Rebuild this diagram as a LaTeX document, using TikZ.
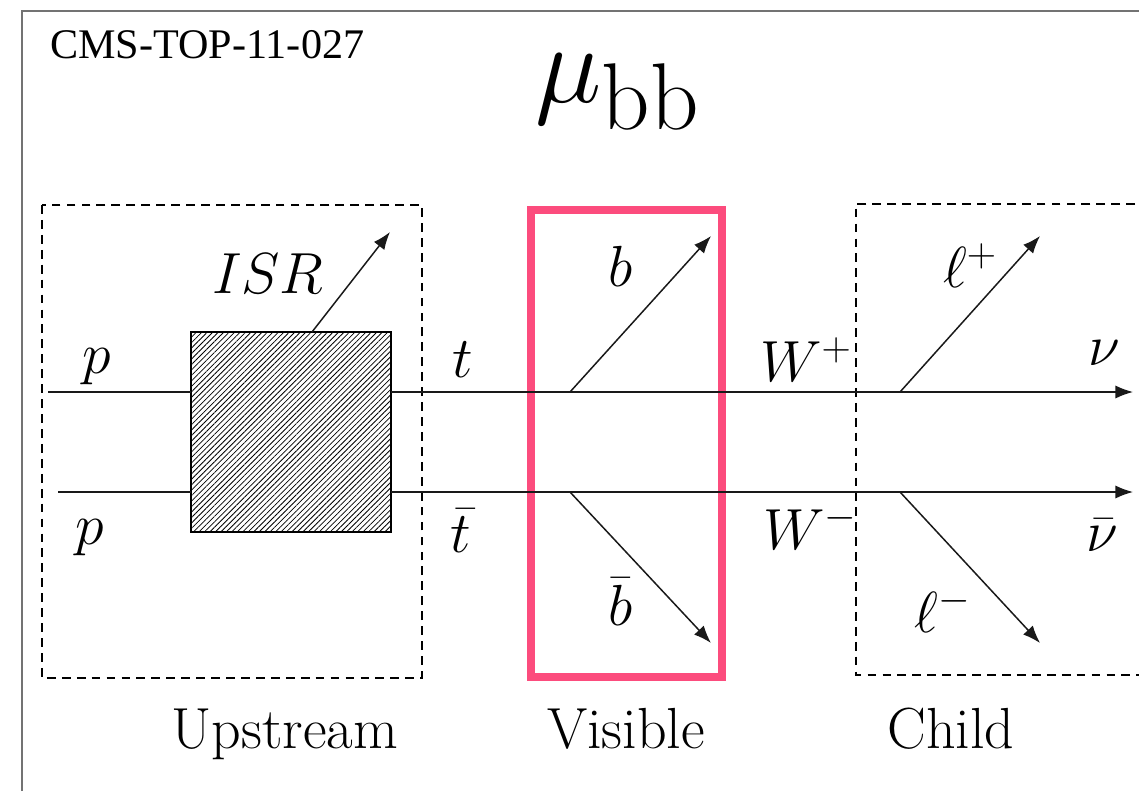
\RequirePackage{fix-cm}
\documentclass[tikz,border=0pt]{standalone}
\usepackage{fontspec}
\newfontfamily\cmsfont{Liberation Serif}
\usetikzlibrary{arrows.meta,patterns.meta}
\definecolor{pinkbox}{RGB}{252,76,125}
\begin{document}
\begin{tikzpicture}[x=0.02cm,y=-0.02cm,
  lbl/.style={font=\fontsize{33}{38}\selectfont, inner sep=0pt},
  pline/.style={line width=0.85pt, black!90},
  parrow/.style={pline, -{Latex[length=10pt,width=7.5pt]}},
  dbox/.style={line width=0.9pt, dash pattern=on 5pt off 3.5pt},
  framel/.style={line width=1.7pt, black!55},
]
\useasboundingbox (0,0) rectangle (1139,791);
% outer frame
\draw[framel] (22,791) -- (22,11) -- (1139,11);
% header texts
\node[font=\fontsize{24}{28}\selectfont\cmsfont, anchor=base west, inner sep=0pt] (cms) at (50,58) {CMS-TOP-11-027};
\node[anchor=base west, inner sep=0pt] (title) at (535,102)
  {\fontsize{64}{70}\selectfont$\mu_{\mbox{\fontsize{54}{60}\selectfont bb}}$};
% region boxes
\draw[dbox] (42,205) rectangle (422,678);
\draw[dbox] (1150,204) -- (856,204) -- (856,675) -- (1150,675);
\draw[pinkbox, line width=4.5pt] (531,210) rectangle (722,677);
% hatched ISR box
\node[draw, line width=0.8pt, inner sep=0pt, minimum width=4cm, minimum height=4cm,
  pattern={Lines[angle=45,distance=2.2pt,line width=0.45pt]}] (hb) at (291,432) {};
% coordinates
\coordinate (pin1) at (48,392);
\coordinate (pin2) at (58,492);
\coordinate (nu) at (1133,392);
\coordinate (nub) at (1133,492);
\coordinate (vb) at (570,392);
\coordinate (vbb) at (570,492);
\coordinate (vl) at (900,392);
\coordinate (vlb) at (900,492);
\coordinate (eb) at (711,236);
\coordinate (ebb) at (711,643);
\coordinate (el) at (1040,236);
\coordinate (elb) at (1040,643);
\coordinate (isr0) at (312,332);
\coordinate (isr1) at (390,232);
% lines
\draw[pline] (pin1) -- (pin1 -| hb.west);
\draw[pline] (pin2) -- (pin2 -| hb.west);
\draw[parrow] (pin1 -| hb.east) -- (nu);
\draw[parrow] (pin2 -| hb.east) -- (nub);
\draw[parrow] (isr0) -- (isr1);
\draw[parrow] (vb) -- (eb);
\draw[parrow] (vbb) -- (ebb);
\draw[parrow] (vl) -- (el);
\draw[parrow] (vlb) -- (elb);
% labels
\node[lbl] (lp1) at (97,367) {$p$};
\node[lbl] (lp2) at (90,538) {$p$};
\node[lbl] (lisr) at (268,274) {$ISR$};
\node[lbl] (lt) at (463,360) {$t$};
\node[lbl] (ltb) at (461,531) {$\bar t$};
\node[lbl] (lb) at (621,266) {$b$};
\node[lbl] (lbb) at (621,602) {$\bar b$};
\node[lbl] (lwp) at (806,360) {$W^+$};
\node[lbl] (lwm) at (810,527) {$W^-$};
\node[lbl] (llp) at (970,266) {$\ell^+$};
\node[lbl] (llm) at (943,610) {$\ell^-$};
\node[lbl] (lnu) at (1104,353) {$\nu$};
\node[lbl] (lnub) at (1102,535) {$\bar\nu$};
\node[lbl, anchor=base] (lup) at (285,748) {Upstream};
\node[lbl, anchor=base] (lvis) at (626,748) {Visible};
\node[lbl, anchor=base] (lch) at (951,748) {Child};
\end{tikzpicture}
\end{document}
